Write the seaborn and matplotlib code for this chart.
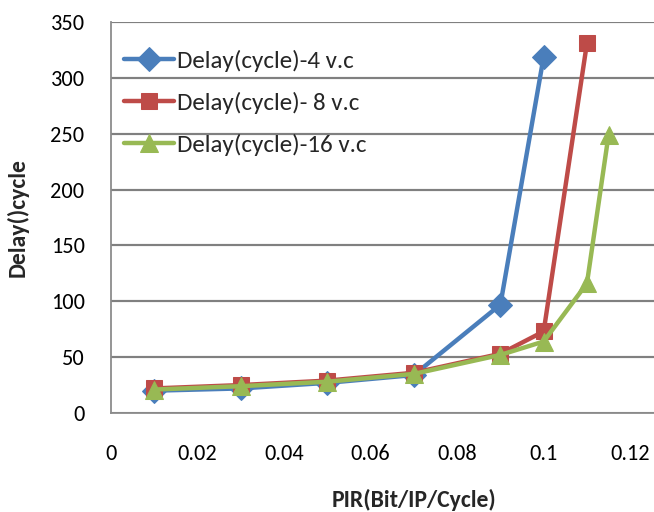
import matplotlib
matplotlib.use("Agg")
import matplotlib.pyplot as plt
import seaborn as sns
from matplotlib.ticker import FuncFormatter

# Data
x_4vc = [0.01, 0.03, 0.05, 0.07, 0.09, 0.10]
y_4vc = [20, 22, 27, 34, 97, 319]
x_8vc = [0.01, 0.03, 0.05, 0.07, 0.09, 0.10, 0.11]
y_8vc = [22, 25, 29, 36, 53, 73, 331]
x_16vc = [0.01, 0.03, 0.05, 0.07, 0.09, 0.10, 0.11, 0.115]
y_16vc = [21, 24, 28, 35, 52, 64, 116, 249]
labels = ["Delay(cycle)-4 v.c", "Delay(cycle)- 8 v.c", "Delay(cycle)-16 v.c"]
x_ticks = [0, 0.02, 0.04, 0.06, 0.08, 0.1, 0.12]
y_ticks = [0, 50, 100, 150, 200, 250, 300, 350]

sns.set_theme(style="whitegrid")
plt.rcParams['font.family'] = ['Carlito', 'Lato', 'DejaVu Sans']

fig = plt.figure(figsize=(6.54, 5.12), dpi=100)
ax = fig.add_axes([111/654, 99/512, 543/654, 391/512])

x_max = 0.1255
series = [
    (x_4vc, y_4vc, labels[0], "#4A7EBB", "D", 12),
    (x_8vc, y_8vc, labels[1], "#BE4B48", "s", 12),
    (x_16vc, y_16vc, labels[2], "#98B954", "^", 13),
]
for xs, ys, lab, col, mk, ms in series:
    sns.lineplot(x=xs, y=ys, ax=ax, color=col, marker=mk, markersize=ms,
                 markeredgecolor=col, linewidth=3.2, label=lab, zorder=3)

ax.set_xlim(0, x_max)
ax.set_ylim(0, 350)
ax.set_xticks(x_ticks)
ax.set_yticks(y_ticks)
ax.xaxis.set_major_formatter(FuncFormatter(lambda v, p: f"{v:g}"))
ax.tick_params(axis='both', length=0, labelsize=16, colors='black')
ax.tick_params(axis='x', pad=22)
ax.tick_params(axis='y', pad=19)
ax.grid(False, axis='x')
ax.grid(True, axis='y', color='#808080', linewidth=1.5, linestyle='-')
for yv in y_ticks[1:]:
    ax.axhline(yv, color='#808080', linewidth=1.5, zorder=1)
for s in ['top', 'right']:
    ax.spines[s].set_visible(False)
for s in ['left', 'bottom']:
    ax.spines[s].set_color('#8C8C8C')
    ax.spines[s].set_linewidth(1.3)

ax.set_xlabel("PIR(Bit/IP/Cycle)", fontsize=17, fontweight='bold')
ax.xaxis.set_label_coords((414 - 111) / 543, -(489 - 413) / 391)
ax.set_ylabel("Delay()cycle", fontsize=17, fontweight='bold')
ax.yaxis.set_label_coords(-(111 - 29) / 543, 0.5)

leg = ax.legend(loc='upper left', bbox_to_anchor=(0.005, 0.955), frameon=False,
                fontsize=18, handlelength=2.0, labelspacing=0.8, handletextpad=0.15,
                borderaxespad=0)

fig.savefig("out.png", dpi=100)
